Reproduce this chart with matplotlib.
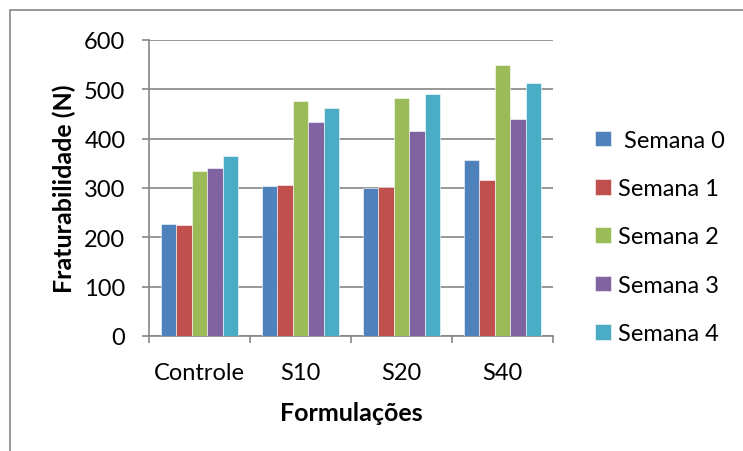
import numpy as np
import matplotlib.pyplot as plt
from matplotlib.patches import Rectangle

plt.rcParams['font.family'] = ['Lato', 'DejaVu Sans']

formulacoes = ["Controle", "S10", "S20", "S40"]
semanas = [" Semana 0", "Semana 1", "Semana 2", "Semana 3", "Semana 4"]
semana0 = [227, 305, 299, 357]
semana1 = [225, 306, 302, 316]
semana2 = [335, 477, 482, 549]
semana3 = [341, 433, 415, 439]
semana4 = [365, 462, 491, 512]
cores = ["#4F81BD", "#C0504D", "#9BBB59", "#8064A2", "#4BACC6"]

series = [semana0, semana1, semana2, semana3, semana4]
fs = 17

fig = plt.figure(figsize=(7.43, 4.52), dpi=100)
ax = fig.add_axes([149 / 743, 1 - 337 / 452, 404 / 743, 296 / 452])

x = np.arange(len(formulacoes))
w = 0.152
for i, (vals, nome, cor) in enumerate(zip(series, semanas, cores)):
    ax.bar(x + (i - 2) * w, vals, width=w, color=cor, edgecolor="white",
           linewidth=0.4, label=nome, zorder=3)

ax.set_xlim(-0.5, len(formulacoes) - 0.5)
ax.set_ylim(0, 600)
ax.set_yticks(np.arange(0, 601, 100))
ax.yaxis.grid(True, color="#868686", linewidth=1.2, zorder=0)
ax.set_axisbelow(True)

ax.set_xticks(x)
ax.set_xticklabels(formulacoes)
ax.set_xticks(np.arange(-0.5, len(formulacoes)), minor=True)
ax.tick_params(axis="x", which="major", length=0, pad=19, labelsize=fs)
ax.tick_params(axis="x", which="minor", length=5, width=1.2, color="#868686", direction="out")
ax.tick_params(axis="y", length=5, width=1.2, color="#868686", pad=12, labelsize=fs)

for lado in ["top", "right"]:
    ax.spines[lado].set_visible(False)
for lado in ["left", "bottom"]:
    ax.spines[lado].set_color("#868686")
    ax.spines[lado].set_linewidth(1.2)

ax.set_ylabel("Fraturabilidade (N)", fontsize=18, fontweight="bold", labelpad=6)
ax.set_xlabel("Formulações", fontsize=18, fontweight="bold", labelpad=13)

leg = ax.legend(loc="center left", bbox_to_anchor=(586 / 743, 1 - 238 / 452),
                bbox_transform=fig.transFigure, frameon=False, fontsize=fs,
                handlelength=0.65, handleheight=0.65, handletextpad=0.3,
                labelspacing=1.16, borderaxespad=0)

# borda do gráfico
fig.patches.append(Rectangle((10 / 743, -0.1), 1.1, 1 - 11 / 452 + 0.1,
                             transform=fig.transFigure, fill=False,
                             edgecolor="#868686", linewidth=1.2))

fig.savefig("out.png", dpi=100)
